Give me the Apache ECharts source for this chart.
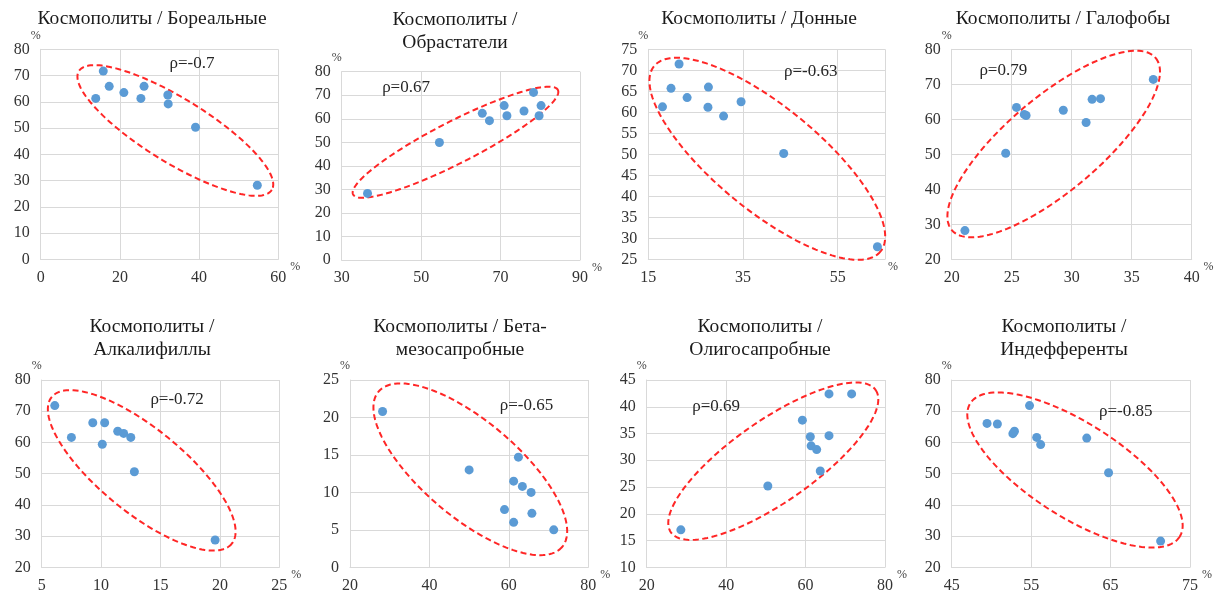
<!DOCTYPE html>
<html>
<head>
<meta charset="utf-8">
<script src="https://cdn.jsdelivr.net/npm/echarts@6/dist/echarts.min.js"></script>
<style>
  html, body { margin: 0; padding: 0; background: #ffffff; }
  #chart { width: 1219px; height: 599px; }
</style>
</head>
<body>
<div id="chart"></div>
<script>
// Доля космополитов (%) против доли экологических групп (%), 10 проб
const titles = [
  'Космополиты / Бореальные',
  'Космополиты /\nОбрастатели',
  'Космополиты / Донные',
  'Космополиты / Галофобы',
  'Космополиты /\nАлкалифиллы',
  'Космополиты / Бета-\nмезосапробные',
  'Космополиты /\nОлигосапробные',
  'Космополиты /\nИндефференты'
];
const rhoLabels = ['ρ=-0.7', 'ρ=0.67', 'ρ=-0.63', 'ρ=0.79', 'ρ=-0.72', 'ρ=-0.65', 'ρ=0.69', 'ρ=-0.85'];

const borealX = [15.8, 17.3, 13.9, 21.0, 26.1, 25.3, 32.1, 32.2, 39.1, 54.7];
const borealY = [71.7, 65.9, 61.3, 63.5, 65.9, 61.3, 62.6, 59.2, 50.3, 28.2];

const foulingX = [36.5, 54.6, 65.4, 67.2, 70.9, 71.6, 75.9, 78.3, 80.2, 79.7];
const foulingY = [28.3, 49.9, 62.3, 59.2, 65.6, 61.3, 63.3, 71.2, 65.6, 61.3];

const benthicX = [18.0, 19.8, 21.5, 23.2, 27.7, 27.6, 30.9, 34.6, 43.6, 63.4];
const benthicY = [61.3, 65.7, 71.5, 63.5, 66.0, 61.2, 59.1, 62.5, 50.2, 28.0];

const halophobeX = [21.1, 24.5, 25.4, 26.05, 26.2, 29.3, 31.2, 31.7, 32.4, 36.8];
const halophobeY = [28.2, 50.3, 63.4, 61.4, 61.1, 62.6, 59.1, 65.7, 65.9, 71.4];

const alkaliX = [6.1, 7.5, 9.3, 10.3, 10.1, 11.4, 11.9, 12.5, 12.8, 19.6];
const alkaliY = [71.8, 61.6, 66.3, 66.3, 59.4, 63.6, 62.9, 61.6, 50.6, 28.75];

const betaX = [28.2, 50.0, 62.4, 61.2, 63.4, 65.6, 58.9, 65.8, 61.2, 71.3];
const betaY = [20.8, 13.0, 14.7, 11.5, 10.8, 10.0, 7.7, 7.2, 6.0, 5.0];

const oligoX = [28.6, 50.5, 59.2, 61.2, 61.4, 62.8, 63.7, 65.9, 65.9, 71.6];
const oligoY = [17.0, 25.2, 37.5, 34.4, 32.7, 32.0, 28.0, 34.6, 42.4, 42.4];

const indiffX = [49.45, 50.75, 52.7, 52.9, 54.8, 55.7, 56.2, 62.0, 64.75, 71.3];
const indiffY = [66.1, 65.9, 62.8, 63.6, 71.8, 61.6, 59.3, 61.4, 50.3, 28.4];

const seriesX = [borealX, foulingX, benthicX, halophobeX, alkaliX, betaX, oligoX, indiffX];
const seriesY = [borealY, foulingY, benthicY, halophobeY, alkaliY, betaY, oligoY, indiffY];

// Axis scales
const xMin  = [0, 30, 15, 20, 5, 20, 20, 45];
const xMax  = [60, 90, 65, 40, 25, 80, 80, 75];
const xStep = [20, 20, 20, 5, 5, 20, 20, 10];
const yMin  = [0, 0, 25, 20, 20, 0, 10, 20];
const yMax  = [80, 80, 75, 80, 80, 25, 45, 80];
const yStep = [10, 10, 5, 10, 10, 5, 5, 10];

// Layout of the eight panels
const grids = [
  { left: 40.7,  top: 49.3, width: 237.6, height: 210 },
  { left: 341.7, top: 71.7, width: 238.3, height: 188.3 },
  { left: 648.3, top: 49.3, width: 236.7, height: 210 },
  { left: 951.7, top: 49.3, width: 240,   height: 210 },
  { left: 41.7,  top: 380,  width: 237.6, height: 187.3 },
  { left: 350,   top: 380,  width: 238.3, height: 187.3 },
  { left: 646.7, top: 380,  width: 238.3, height: 187.3 },
  { left: 951.7, top: 380,  width: 238.3, height: 187.3 }
];
const titlePos = [
  [152, 7.5], [455, 9], [759, 7.5], [1063, 7.5],
  [152, 316], [460, 316], [760, 316], [1064, 316]
];

// Dashed correlation ellipses: centre and end of the major axis in data units,
// half-width in pixels; ρ label anchored in data units
const ellipses = [
  { center: [34.0, 49.07],  tip: [58.36, 26.44], half: 32, label: [38.2, 74.7] },
  { center: [58.65, 50.04], tip: [84.43, 72.26], half: 21, label: [46.2, 73.4] },
  { center: [40.14, 48.93], tip: [64.05, 26.86], half: 52, label: [49.3, 69.7] },
  { center: [28.5, 52.94],  tip: [36.99, 77.54], half: 47, label: [24.3, 73.8] },
  { center: [13.42, 51.05], tip: [21.0, 27.56],  half: 42, label: [16.4, 73.6] },
  { center: [50.29, 13.08], tip: [73.4, 2.71],   half: 48, label: [64.45, 21.6] },
  { center: [51.87, 29.83], tip: [77.65, 43.13], half: 41, label: [37.5, 40.1] },
  { center: [60.52, 51.17], tip: [73.7, 29.8],   half: 47, label: [66.9, 70.05] }
];

const FONT = '"Liberation Serif", "Times New Roman", serif';
const GRID_COLOR = '#d9d9d9';

function ellipseRenderer(spec, text) {
  return function (params, api) {
    const c = api.coord(spec.center);
    const e = api.coord(spec.tip);
    const ax = e[0] - c[0], ay = e[1] - c[1];
    const len = Math.hypot(ax, ay);
    const bx = -ay / len * spec.half, by = ax / len * spec.half;
    const pts = [];
    const n = 160;
    for (let i = 0; i < n; i++) {
      const t = i / n * Math.PI * 2;
      pts.push([c[0] + Math.cos(t) * ax + Math.sin(t) * bx,
                c[1] + Math.cos(t) * ay + Math.sin(t) * by]);
    }
    const lp = api.coord(spec.label);
    return {
      type: 'group',
      children: [
        { type: 'polygon', shape: { points: pts },
          style: { fill: 'none', stroke: '#ff2626', lineWidth: 2, lineDash: [6, 3.5] } },
        { type: 'text',
          style: { text: text, x: lp[0], y: lp[1], align: 'center', verticalAlign: 'middle',
                   fontSize: 17, fontFamily: FONT, fill: '#262626' } }
      ]
    };
  };
}

const option = {
  backgroundColor: '#ffffff',
  animation: false,
  title: titles.map((t, i) => ({
    text: t,
    left: titlePos[i][0],
    top: titlePos[i][1],
    textAlign: 'center',
    padding: 0,
    textStyle: { fontFamily: FONT, fontSize: 19.5, fontWeight: 'normal', color: '#1a1a1a', lineHeight: 22.5 }
  })),
  grid: grids,
  xAxis: grids.map((g, i) => ({
    type: 'value',
    gridIndex: i,
    min: xMin[i], max: xMax[i], interval: xStep[i],
    name: '%',
    nameLocation: 'end',
    nameGap: 3,
    nameTextStyle: { fontFamily: FONT, fontSize: 12, color: '#404040', verticalAlign: 'top', padding: [2, 0, 0, 0] },
    axisLine: { show: true, onZero: false, lineStyle: { color: GRID_COLOR, width: 1 } },
    axisTick: { show: false },
    splitLine: { show: true, lineStyle: { color: GRID_COLOR, width: 1 } },
    axisLabel: { fontFamily: FONT, fontSize: 16, color: '#333333', margin: 10, showMaxLabel: i !== 2 }
  })),
  yAxis: grids.map((g, i) => ({
    type: 'value',
    gridIndex: i,
    min: yMin[i], max: yMax[i], interval: yStep[i],
    name: '%',
    nameLocation: 'end',
    nameGap: 2,
    nameTextStyle: { fontFamily: FONT, fontSize: 12, color: '#404040', align: 'right' },
    axisLine: { show: true, onZero: false, lineStyle: { color: GRID_COLOR, width: 1 } },
    axisTick: { show: false },
    splitLine: { show: true, lineStyle: { color: GRID_COLOR, width: 1 } },
    axisLabel: { fontFamily: FONT, fontSize: 16, color: '#333333', margin: 11 }
  })),
  series: []
};

seriesX.forEach((xs, i) => {
  option.series.push({
    type: 'custom',
    xAxisIndex: i, yAxisIndex: i,
    silent: true,
    z: 1,
    clip: false,
    renderItem: ellipseRenderer(ellipses[i], rhoLabels[i]),
    data: [ellipses[i].center]
  });
  option.series.push({
    type: 'scatter',
    xAxisIndex: i, yAxisIndex: i,
    z: 3,
    symbolSize: 9,
    itemStyle: { color: '#5b9bd5', opacity: 1 },
    data: xs.map((x, k) => [x, seriesY[i][k]])
  });
});

const chart = echarts.init(document.getElementById('chart'), null, { renderer: 'canvas' });
chart.setOption(option);
</script>
</body>
</html>
